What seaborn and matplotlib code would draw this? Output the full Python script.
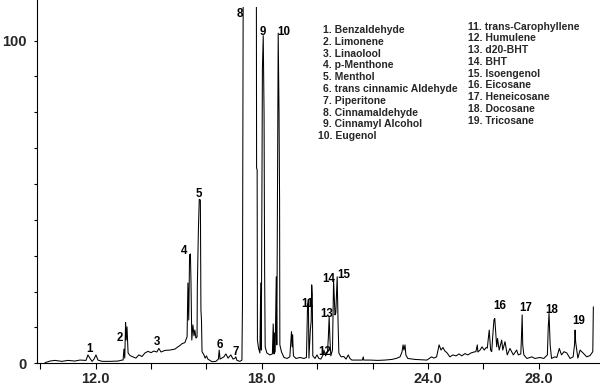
import matplotlib
matplotlib.use("Agg")
import matplotlib.pyplot as plt
import seaborn as sns
import numpy as np

# ---- data ----
time_min = [10.17, 10.35, 10.53, 10.78, 11.00, 11.25, 11.43, 11.65, 11.72, 11.79,
            11.87, 11.94, 12.01, 12.08, 12.23, 12.52, 12.81, 12.95, 12.99, 13.02,
            13.05, 13.08, 13.10, 13.13, 13.17, 13.24, 13.35, 13.45, 13.56, 13.67,
            13.78, 13.89, 14.00, 14.10, 14.21, 14.28, 14.36, 14.50, 14.68, 14.86,
            14.97, 15.04, 15.12, 15.22, 15.30, 15.33, 15.36, 15.39, 15.42, 15.44,
            15.47, 15.51, 15.55, 15.58, 15.62, 15.66, 15.67, 15.71, 15.74, 15.78,
            15.80, 15.82, 15.84, 15.91, 15.95, 16.00, 16.05, 16.20, 16.34, 16.43,
            16.46, 16.49, 16.63, 16.70, 16.78, 16.88, 16.96, 17.03, 17.06, 17.10,
            17.21, 17.28, 17.30, 17.33, 17.80, 17.81, 17.83, 17.84, 17.88, 17.93,
            17.96, 17.98, 18.00, 18.02, 18.05, 18.08, 18.10, 18.12, 18.18, 18.29,
            18.38, 18.41, 18.44, 18.45, 18.48, 18.52, 18.54, 18.57, 18.59, 18.62,
            18.64, 18.65, 18.71, 18.80, 18.91, 19.01, 19.07, 19.10, 19.11, 19.14,
            19.23, 19.38, 19.52, 19.61, 19.65, 19.68, 19.70, 19.75, 19.78, 19.80,
            19.82, 19.84, 19.92, 19.99, 20.06, 20.13, 20.21, 20.24, 20.30, 20.37,
            20.40, 20.43, 20.46, 20.49, 20.55, 20.59, 20.62, 20.64, 20.67, 20.72,
            20.75, 20.78, 20.86, 20.96, 21.04, 21.12, 21.18, 21.25, 21.47, 21.63,
            21.66, 21.68, 21.90, 22.19, 22.44, 22.70, 22.88, 22.99, 23.06, 23.10,
            23.13, 23.17, 23.20, 23.27, 23.53, 23.96, 24.13, 24.21, 24.31, 24.40,
            24.47, 24.54, 24.61, 24.68, 24.79, 24.90, 25.01, 25.12, 25.22, 25.33,
            25.44, 25.55, 25.66, 25.73, 25.78, 25.80, 25.88, 25.95, 26.03, 26.10,
            26.14, 26.21, 26.26, 26.30, 26.34, 26.38, 26.41, 26.44, 26.48, 26.51,
            26.57, 26.66, 26.70, 26.78, 26.86, 26.96, 27.08, 27.20, 27.26, 27.35,
            27.37, 27.40, 27.42, 27.46, 27.57, 27.75, 27.86, 28.04, 28.18, 28.31,
            28.34, 28.37, 28.41, 28.46, 28.58, 28.65, 28.74, 28.82, 28.91, 29.01,
            29.13, 29.24, 29.29, 29.31, 29.33, 29.41, 29.49, 29.61, 29.73, 29.85,
            29.95, 29.97]
abundance = [0.2, 0.7, 0.9, 0.6, 0.9, 0.7, 1.0, 0.9, 2.6, 1.6,
             0.6, 1.3, 2.6, 1.0, 0.6, 0.6, 0.7, 1.0, 1.0, 4.4,
             1.6, 12.6, 7.2, 11.3, 3.2, 2.4, 2.0, 1.6, 2.6, 2.1,
             3.2, 3.7, 3.3, 3.8, 3.5, 4.6, 3.5, 4.0, 4.1, 4.4,
             5.1, 5.5, 6.1, 6.4, 8.2, 24.9, 13.4, 33.6, 33.9, 25.8,
             7.2, 11.9, 8.5, 10.3, 7.8, 8.2, 23.7, 41.9, 50.8, 50.6,
             16.5, 13.4, 3.6, 2.6, 1.6, 2.3, 1.3, 0.5, 0.6, 1.3,
             4.1, 1.3, 2.0, 2.9, 1.6, 2.6, 1.3, 1.6, 2.0, 0.9,
             0.6, 1.0, 18.1, 130.0, 130.0, 60.5, 59.9, 7.2, 4.7, 3.2,
             24.9, 4.1, 50.6, 91.5, 101.5, 77.0, 28.3, 5.1, 3.2, 2.6,
             2.9, 12.2, 2.9, 9.4, 3.5, 26.8, 5.7, 68.3, 102.3, 77.6,
             50.6, 5.7, 3.5, 1.8, 1.5, 2.0, 9.8, 5.1, 8.8, 2.3,
             1.5, 1.8, 1.5, 1.8, 18.1, 19.6, 1.6, 10.3, 12.9, 24.3,
             21.2, 2.3, 1.5, 2.6, 1.5, 1.3, 2.6, 4.1, 2.3, 3.5,
             7.8, 14.4, 7.2, 2.3, 4.1, 25.8, 19.6, 15.0, 15.6, 26.8,
             13.4, 3.2, 2.0, 2.1, 1.3, 2.6, 1.5, 1.0, 1.0, 1.0,
             2.0, 1.0, 1.0, 0.9, 1.0, 1.2, 1.6, 2.0, 3.5, 5.7,
             4.1, 5.7, 2.6, 1.5, 1.2, 1.0, 2.0, 1.6, 2.0, 5.7,
             4.1, 4.9, 3.8, 3.3, 2.0, 2.6, 2.3, 2.9, 2.3, 3.0,
             2.6, 3.2, 3.5, 3.6, 5.7, 3.5, 4.1, 5.1, 4.1, 4.9,
             4.7, 10.3, 4.1, 3.6, 8.8, 13.4, 13.9, 10.3, 5.1, 7.7,
             4.1, 7.2, 4.1, 6.7, 2.6, 4.6, 2.6, 4.1, 2.6, 2.9,
             7.2, 15.0, 5.7, 2.6, 1.5, 2.0, 1.5, 1.8, 1.5, 2.6,
             10.9, 15.5, 5.7, 1.5, 2.0, 1.8, 4.6, 2.6, 3.6, 3.2,
             1.5, 2.0, 5.7, 10.3, 6.7, 1.6, 4.1, 3.1, 2.0, 2.4,
             3.6, 17.5]

peak_ids = ["1", "2", "3", "4", "5", "6", "7", "8", "9", "10",
            "11", "12", "13", "14", "15", "16", "17", "18", "19"]
peak_label_t = [11.76, 12.88, 14.22, 15.19, 15.73, 16.49, 17.06, 17.19, 18.05, 18.80,
                19.66, 20.28, 20.34, 20.40, 20.97, 26.60, 27.54, 28.46, 29.45]
peak_label_y = [5.0, 8.2, 7.0, 35.4, 53.0, 6.2, 4.1, 108.8, 103.0, 103.0,
                18.8, 4.1, 15.7, 26.5, 27.7, 18.1, 17.5, 17.0, 13.7]

compounds = ["Benzaldehyde", "Limonene", "Linaolool", "p-Menthone", "Menthol",
             "trans cinnamic Aldehyde", "Piperitone", "Cinnamaldehyde",
             "Cinnamyl Alcohol", "Eugenol", "trans-Carophyllene", "Humulene",
             "d20-BHT", "BHT", "Isoengenol", "Eicosane", "Heneicosane",
             "Docosane", "Tricosane"]

x_ticks = [10, 12, 14, 16, 18, 20, 22, 24, 26, 28]
x_ticklabels = ["", "12.0", "", "", "18.0", "", "", "24.0", "", "28.0"]
y_ticks = list(np.linspace(0, 100, 10))
y_ticklabels = ["0"] + [""] * 8 + ["100"]

# ---- figure ----
sns.set_style("ticks")
plt.rcParams["font.family"] = ["Liberation Sans", "DejaVu Sans"]
plt.rcParams["font.weight"] = "bold"

W, H = 600, 386
fig = plt.figure(figsize=(W / 100, H / 100), dpi=100)
ax_left, ax_right, ax_top, ax_bottom = 36.7, 600.0, 7.0, 363.3
ax = fig.add_axes([ax_left / W, 1 - ax_bottom / H,
                   (ax_right - ax_left) / W, (ax_bottom - ax_top) / H])

sns.lineplot(x=time_min, y=abundance, ax=ax, sort=False, estimator=None,
             color="black", linewidth=0.75)

ax.set_xlim(9.87, 30.21)
ax.set_ylim(0, 110.4)
ax.set_xticks(x_ticks)
ax.set_xticklabels(x_ticklabels)
ax.set_yticks(y_ticks)
ax.set_yticklabels(y_ticklabels)
for lab in ax.get_xticklabels() + ax.get_yticklabels():
    lab.set_fontweight("bold")
    lab.set_fontsize(10.5)
ax.tick_params(axis="x", length=4.5, width=0.8, pad=2.0, color="black")
ax.tick_params(axis="y", length=2.5, width=0.8, pad=5.0, color="black")
ax.set_xlabel("")
ax.set_ylabel("")
for s in ["top", "right"]:
    ax.spines[s].set_visible(False)
for s in ["left", "bottom"]:
    ax.spines[s].set_color("black")
    ax.spines[s].set_linewidth(0.8)
ax.spines["left"].set_bounds(0, 112.6)

# peak numbers
for pid, tx, ty in zip(peak_ids, peak_label_t, peak_label_y):
    ax.text(tx, ty, pid, ha="center", va="center_baseline", fontsize=8.3,
            fontweight="bold", color="black")

# legend text (figure pixel positions)
for i in range(10):
    yc = 29.0 + 11.8 * i
    xl = 323.3 if i < 9 else 318.3
    fig.text(xl / W, 1 - yc / H, f"{i + 1}. {compounds[i]}", ha="left",
             va="center_baseline", fontsize=7.5, fontweight="bold")
for i in range(10, 19):
    yc = 25.5 + 11.8 * (i - 10)
    fig.text(468.3 / W, 1 - yc / H, f"{i + 1}. {compounds[i]}", ha="left",
             va="center_baseline", fontsize=7.5, fontweight="bold")

fig.savefig("out.png", dpi=100)
